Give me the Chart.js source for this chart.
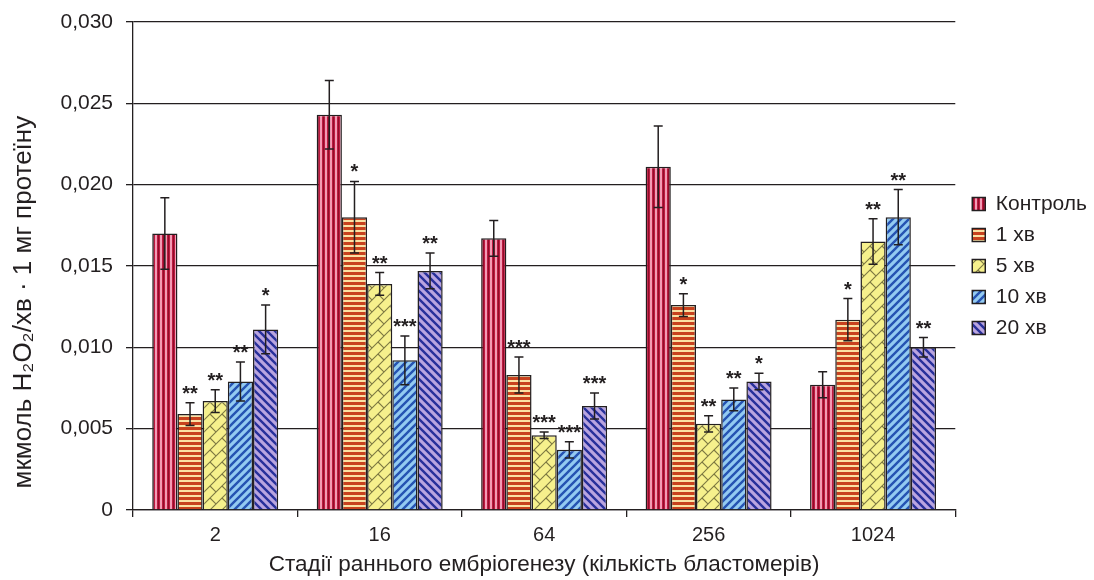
<!DOCTYPE html>
<html><head><meta charset="utf-8">
<script src="https://cdn.jsdelivr.net/npm/chart.js@4.4.1/dist/chart.umd.min.js"></script>
<style>html,body{margin:0;padding:0;background:#fff}</style>
</head><body>
<canvas id="c" width="1094" height="580"></canvas>
<script>
const categories = ['2', '16', '64', '256', '1024'];
const seriesNames = ['Контроль', '1 хв', '5 хв', '10 хв', '20 хв'];
const control = [0.0170, 0.0243, 0.0167, 0.0211, 0.0077];
const min1    = [0.0059, 0.0180, 0.0083, 0.0126, 0.0117];
const min5    = [0.0067, 0.0139, 0.0046, 0.0053, 0.0165];
const min10   = [0.0079, 0.0092, 0.0037, 0.0068, 0.0180];
const min20   = [0.0111, 0.0147, 0.0064, 0.0079, 0.0100];
const controlErr = [0.0022, 0.0021, 0.0011, 0.0025, 0.0008];
const min1Err    = [0.0007, 0.0022, 0.0011, 0.0007, 0.0013];
const min5Err    = [0.0007, 0.0007, 0.0002, 0.0005, 0.0014];
const min10Err   = [0.0012, 0.0015, 0.0005, 0.0007, 0.0017];
const min20Err   = [0.0015, 0.0011, 0.0008, 0.0005, 0.0006];
const controlStars = ['', '', '', '', ''];
const min1Stars    = ['**', '*', '***', '*', '*'];
const min5Stars    = ['**', '**', '***', '**', '**'];
const min10Stars   = ['**', '***', '***', '**', '**'];
const min20Stars   = ['*', '**', '***', '*', '**'];
const yTickLabels = ['0', '0,005', '0,010', '0,015', '0,020', '0,025', '0,030'];
const yTitle = 'мкмоль H₂O₂/хв · 1 мг протеїну';
const xTitle = 'Стадії раннього ембріогенезу (кількість бластомерів)';

const FONT = '"Liberation Sans", Arial, Helvetica, sans-serif';
const INK = '#231f20';
Chart.defaults.font.family = FONT;
Chart.defaults.color = INK;

function tile(w, h, fn) {
  const c = document.createElement('canvas');
  c.width = w; c.height = h;
  const g = c.getContext('2d');
  fn(g, w, h);
  return document.createElement('canvas').getContext('2d').createPattern(c, 'repeat');
}
const patControl = tile(5, 5, g => {
  g.fillStyle = '#bd1a40'; g.fillRect(0, 0, 5, 5);
  g.fillStyle = '#f39ab4'; g.fillRect(0, 0, 2, 5);
  g.fillStyle = '#8f0d2a'; g.fillRect(3, 0, 1, 5);
});
const pat1 = tile(5, 5, g => {
  g.fillStyle = '#c8421e'; g.fillRect(0, 0, 5, 5);
  g.fillStyle = '#fbe1a3'; g.fillRect(0, 0, 5, 2);
});
const pat5 = tile(12, 12, g => {
  g.fillStyle = '#f6f08c'; g.fillRect(0, 0, 12, 12);
  g.strokeStyle = '#7d7842'; g.lineWidth = 1.1;
  g.beginPath();
  g.moveTo(0, 12); g.lineTo(12, 0);
  g.moveTo(-1, 1); g.lineTo(1, -1);
  g.moveTo(11, 13); g.lineTo(13, 11);
  g.moveTo(6, 6); g.lineTo(12, 12);
  g.stroke();
});
const pat10 = tile(8, 8, g => {
  g.fillStyle = '#93caf1'; g.fillRect(0, 0, 8, 8);
  g.strokeStyle = '#2553b2'; g.lineWidth = 2.4;
  g.beginPath();
  g.moveTo(0, 8); g.lineTo(8, 0);
  g.moveTo(-2, 2); g.lineTo(2, -2);
  g.moveTo(6, 10); g.lineTo(10, 6);
  g.stroke();
});
const pat20 = tile(8, 8, g => {
  g.fillStyle = '#b9a4e0'; g.fillRect(0, 0, 8, 8);
  g.strokeStyle = '#28309b'; g.lineWidth = 2.4;
  g.beginPath();
  g.moveTo(0, 0); g.lineTo(8, 8);
  g.moveTo(6, -2); g.lineTo(10, 2);
  g.moveTo(-2, 6); g.lineTo(2, 10);
  g.stroke();
});

function ds(label, data, errors, stars, pattern) {
  return { label, data, errors, stars, backgroundColor: pattern, borderColor: INK, borderWidth: 1.5 };
}

const errorBarPlugin = {
  id: 'errbars',
  afterDatasetsDraw(chart) {
    const ctx = chart.ctx, y = chart.scales.y;
    ctx.save();
    chart.data.datasets.forEach((d, di) => {
      const meta = chart.getDatasetMeta(di);
      if (meta.hidden) return;
      meta.data.forEach((bar, i) => {
        const v = d.data[i], e = d.errors[i];
        const yt = y.getPixelForValue(v + e), yb = y.getPixelForValue(v - e);
        const x = bar.x;
        ctx.strokeStyle = INK; ctx.lineWidth = 1.5;
        ctx.beginPath();
        ctx.moveTo(x, yt); ctx.lineTo(x, yb);
        ctx.moveTo(x - 4.5, yt); ctx.lineTo(x + 4.5, yt);
        ctx.moveTo(x - 4.5, yb); ctx.lineTo(x + 4.5, yb);
        ctx.stroke();
        const s = d.stars[i];
        if (s) {
          ctx.fillStyle = INK;
          ctx.font = 'bold 20px ' + FONT;
          ctx.textAlign = 'center';
          ctx.textBaseline = 'alphabetic';
          ctx.fillText(s, x, yt - 3);
        }
      });
    });
    ctx.restore();
  }
};
const legendShift = {
  id: 'legendShift',
  afterLayout(chart) { const l = chart.legend; if (l) { l.left += 7; l.right += 7; } }
};

new Chart(document.getElementById('c'), {
  type: 'bar',
  data: {
    labels: categories,
    datasets: [
      ds(seriesNames[0], control, controlErr, controlStars, patControl),
      ds(seriesNames[1], min1, min1Err, min1Stars, pat1),
      ds(seriesNames[2], min5, min5Err, min5Stars, pat5),
      ds(seriesNames[3], min10, min10Err, min10Stars, pat10),
      ds(seriesNames[4], min20, min20Err, min20Stars, pat20)
    ]
  },
  plugins: [errorBarPlugin, legendShift],
  options: {
    responsive: false,
    animation: false,
    layout: { padding: { left: 0, right: 4, top: 22, bottom: 0 } },
    datasets: { bar: { categoryPercentage: 0.766, barPercentage: 1 } },
    plugins: {
      legend: {
        position: 'right', fullSize: false,
        labels: { boxWidth: 13, boxHeight: 13, padding: 10, color: INK, font: { size: 21 } }
      },
      tooltip: { enabled: false }
    },
    scales: {
      x: {
        grid: { offset: true, drawOnChartArea: false, drawTicks: true, tickLength: 7, color: INK, lineWidth: 1.3 },
        border: { color: INK, width: 1.3 },
        ticks: { color: INK, font: { size: 20 }, padding: 6, maxRotation: 0 },
        title: { display: true, text: xTitle, color: INK, font: { size: 22.5 }, padding: { top: 0, bottom: 1.5 } },
        afterFit(s) { s.height = 70; }
      },
      y: {
        min: 0, max: 0.03,
        ticks: { stepSize: 0.005, callback: (v, i) => yTickLabels[i], padding: 13, color: INK, font: { size: 21 } },
        grid: { color: INK, lineWidth: 1.3, tickLength: 7 },
        border: { color: INK, width: 1.3 },
        title: { display: true, text: yTitle + '          ', color: INK, font: { size: 26 }, padding: { top: 8, bottom: 0 } },
        afterFit(s) { s.width = 133; s.paddingTop = 0; s.paddingBottom = 0; }
      }
    }
  }
});
</script>
</body></html>
